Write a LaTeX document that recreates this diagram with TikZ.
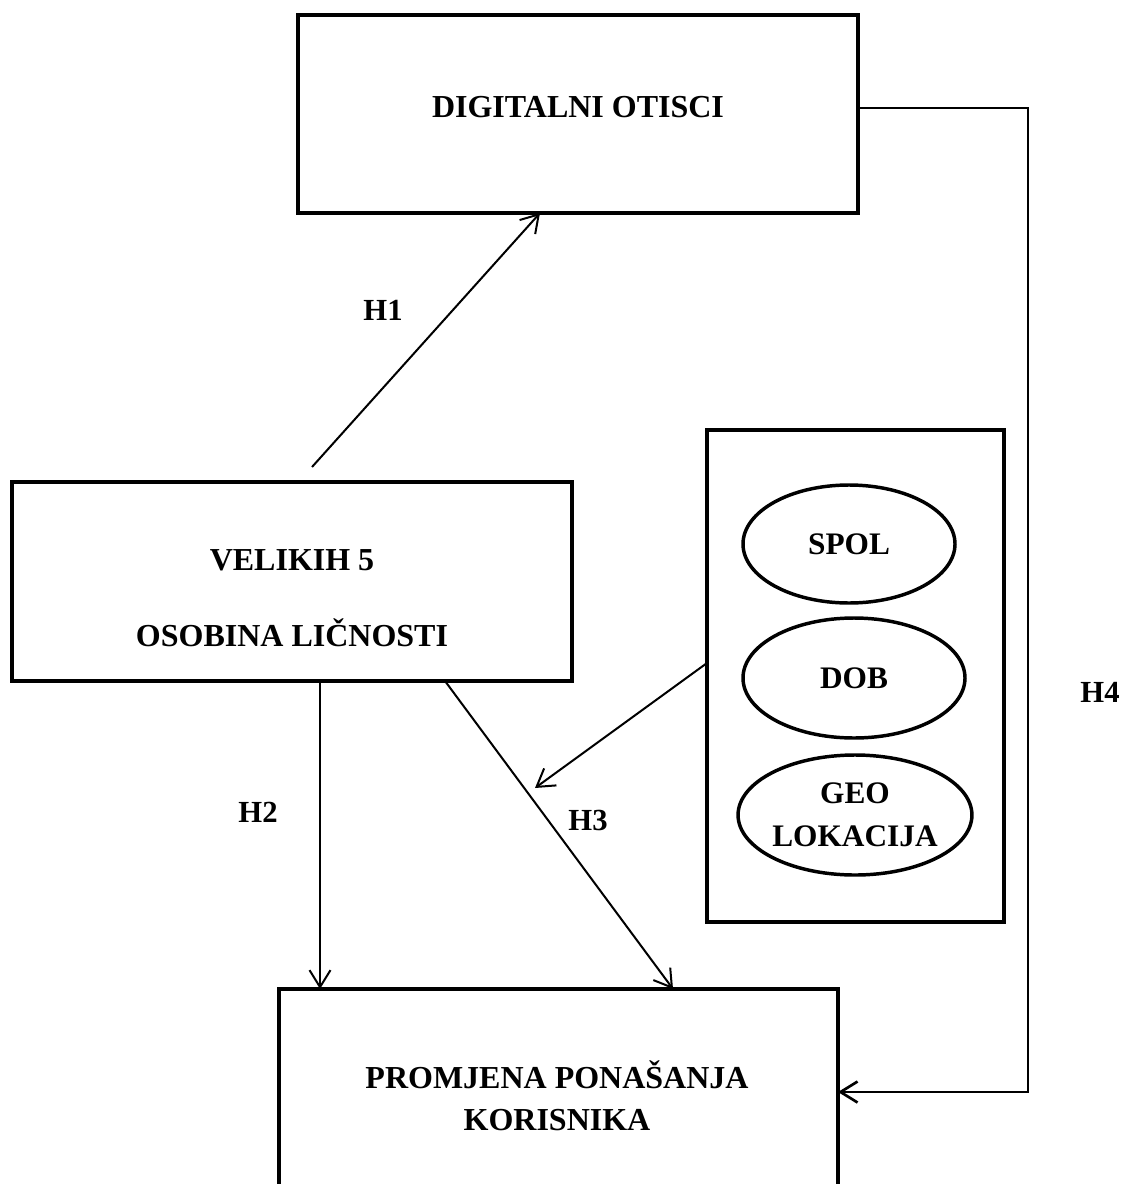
\documentclass[tikz,border=0pt]{standalone}
\usepackage{fontspec}
\setmainfont{Liberation Serif}
\usetikzlibrary{arrows.meta,shapes.geometric,calc}
\begin{document}
\begin{tikzpicture}[x=0.75pt,y=-0.75pt,
  box/.style={draw,rectangle,line width=3pt,inner sep=0pt,outer sep=0pt},
  oval/.style={draw,ellipse,line width=2.6pt,inner sep=0pt,outer sep=0pt,
    font=\fontsize{23.5}{32}\selectfont\bfseries,align=center},
  txt/.style={font=\fontsize{24}{31.5}\selectfont\bfseries,align=center,inner sep=0pt},
  lab/.style={font=\fontsize{23}{28}\selectfont\bfseries,inner sep=0pt},
  arr/.style={line width=1.5pt,-{Straight Barb[length=12.75pt,width=15.75pt]}}]
\useasboundingbox (0,0) rectangle (1124,1184);
\clip (0,0) rectangle (1124,1184);
% boxes
\node[box,minimum width=420pt,minimum height=148.5pt] (dig) at (578,114) {};
\node[txt] (digt) at (578,107) {DIGITALNI OTISCI};
\node[box,minimum width=420pt,minimum height=149.25pt] (vel) at (292,581.5) {};
\node[txt] (velta) at (292,560) {VELIKIH 5};
\node[txt] (veltb) at (292,633) {OSOBINA LIČNOSTI};
\node[box,minimum width=222.75pt,minimum height=369pt] (mod) at (855.5,676) {};
\node[oval,minimum width=159pt,minimum height=88.5pt] (spol) at (849,544) {SPOL};
\node[oval,minimum width=166.5pt,minimum height=90pt] (dob) at (854,678) {DOB};
\node[oval,minimum width=165pt,minimum height=90pt] (geo) at (855,815) {GEO\\LOKACIJA};
\node[box,minimum width=419.25pt,minimum height=180.75pt] (prom) at (558.5,1109.5) {};
\node[txt] (promt) at (557,1096) {PROMJENA PONAŠANJA\\KORISNIKA};
% labels
\node[lab] (h1) at (383,310) {H1};
\node[lab] (h2) at (258,812) {H2};
\node[lab] (h3) at (588,820) {H3};
\node[lab] (h4) at (1100,692) {H4};
% helper coordinates
\coordinate (xa) at (540,0);
\coordinate (xb) at (320,0);
\coordinate (xc) at (445,0);
\coordinate (xd) at (673,0);
\coordinate (ya) at (0,663);
\coordinate (yb) at (0,108);
\coordinate (yc) at (0,1092);
\coordinate (h1s) at (312,467);
\coordinate (mt) at (535,788);
\coordinate (c4a) at (1028,108);
\coordinate (c4b) at (1028,1092);
% connectors
\draw[arr] (h1s) -- (dig.south -| xa);
\draw[arr] (vel.south -| xb) -- (prom.north -| xb);
\draw[arr] (vel.south -| xc) -- (prom.north -| xd);
\draw[arr] (mod.west |- ya) -- (mt);
\draw[arr,line width=2pt] (dig.east |- yb) -- (c4a) -- (c4b) -- (prom.east |- yc);
\end{tikzpicture}
\end{document}
